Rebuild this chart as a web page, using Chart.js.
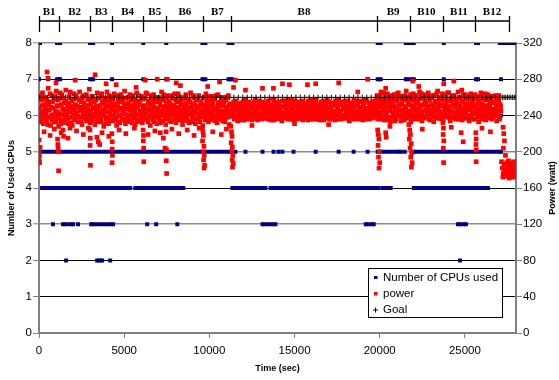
<!DOCTYPE html>
<html>
<head>
<meta charset="utf-8">
<script src="https://cdn.jsdelivr.net/npm/chart.js@4.4.1/dist/chart.umd.min.js"></script>
<style>
html, body { margin: 0; padding: 0; background: #fff; }
#wrap { width: 559px; height: 380px; }
</style>
</head>
<body>
<div id="wrap"><canvas id="chart" width="559" height="380"></canvas></div>
<script>
// block boundaries (sec) and names shown above the plot
var blockEdges = [0, 1180, 3000, 4290, 6120, 7470, 9650, 11290, 19820, 21760, 23710, 25590, 27590];
var blockLabels = ['B1', 'B2', 'B3', 'B4', 'B5', 'B6', 'B7', 'B8', 'B9', 'B10', 'B11', 'B12'];
var timeTicks = [0, 5000, 10000, 15000, 20000, 25000];

// CPU count held over a time span: [from, to, cpus]
var cpuRuns = [
  [0, 60, 8], [1060, 1240, 8], [2990, 3180, 8], [9590, 9770, 8], [11120, 11350, 8],
  [19880, 20060, 8], [21530, 22000, 8], [25650, 25770, 8], [27050, 28000, 8],
  [1060, 1240, 7], [3000, 3180, 7], [9590, 9770, 7], [11120, 11350, 7],
  [19880, 20060, 7], [21530, 22000, 7], [25650, 25770, 7],
  [0, 11240, 5], [19880, 21240, 5], [22000, 27120, 5],
  [180, 5350, 4], [5650, 6120, 4], [6240, 8470, 4], [11350, 13290, 4], [13590, 19290, 4],
  [19470, 19940, 4], [20180, 20650, 4], [22000, 23710, 4], [23880, 25650, 4], [25820, 26350, 4],
  [1410, 2000, 3], [3060, 4350, 3], [13120, 13880, 3], [19180, 19650, 3], [24590, 25060, 3],
  [3410, 3710, 2]
];
// single CPU readings: [time, cpus]
var cpuSingles = [
  [4290, 8], [6120, 8], [7470, 8], [23760, 8],
  [0, 7], [530, 7], [4290, 7], [6120, 7], [7470, 7], [23760, 7], [27120, 7],
  [0, 6], [1100, 6], [3000, 6], [3150, 6], [4290, 6], [6120, 6], [7470, 6], [9600, 6],
  [11350, 6], [20060, 6], [21650, 6], [22000, 6], [23760, 6], [25770, 6], [27120, 6],
  [11530, 5], [12120, 5], [13120, 5], [13770, 5], [14060, 5], [14290, 5], [14940, 5],
  [16240, 5], [17590, 5], [18470, 5], [19290, 5], [21470, 5],
  [820, 3], [2290, 3], [6350, 3], [6880, 3], [8120, 3],
  [1590, 2], [4180, 2], [24710, 2]
];

// power readings inside the main band: [time, watt]
var powerBand = [
  [20,248],[65,236],[110,257],[160,243],[205,265],[250,231],[300,252],[345,240],[395,260],[440,234],
  [490,246],[540,270],[585,238],[630,255],[680,229],[725,249],[775,262],[820,241],[870,233],[915,258],
  [965,244],[1010,267],[1060,237],[1105,251],[1150,228],[1200,259],[1245,242],[1295,235],[1340,263],[1390,247],
  [1435,232],[1480,254],[1530,240],[1575,268],[1625,236],[1670,250],[1720,231],[1765,261],[1815,244],[1860,238],
  [1910,256],[1955,229],[2005,247],[2050,264],[2100,235],[2145,252],[2195,241],[2240,259],[2285,233],[2335,249],
  [2380,266],[2430,238],[2475,255],[2525,230],[2570,245],[2620,262],[2665,237],[2710,251],[2760,243],[2805,234],
  [2855,258],[2900,246],[2950,269],[2995,232],[3045,253],[3090,240],[3135,261],[3185,236],[3230,248],[3280,230],
  [3325,257],[3375,244],[3420,265],[3470,235],[3515,250],[3560,239],[3610,262],[3655,233],[3705,254],[3750,242],
  [3800,228],[3845,259],[3895,247],[3940,236],[3990,266],[4035,251],[4080,231],[4130,256],[4175,243],[4225,238],
  [4270,261],[4320,234],[4365,249],[4415,264],[4460,237],[4505,253],[4555,229],[4600,245],[4650,258],[4695,240],
  [4745,232],[4790,263],[4840,248],[4885,235],[4930,255],[4980,242],[5025,267],[5075,231],[5120,250],[5170,239],
  [5215,260],[5260,236],[5310,246],[5355,233],[5405,257],[5450,244],[5500,262],[5545,237],[5595,252],[5640,230],
  [5685,248],[5735,265],[5780,241],[5830,234],[5875,256],[5925,245],[5970,238],[6020,261],[6065,232],[6110,250],
  [6160,243],[6205,259],[6255,236],[6300,247],[6350,264],[6395,233],[6440,254],[6490,240],[6535,229],[6585,258],
  [6630,246],[6680,235],[6725,263],[6770,249],[6820,238],[6865,255],[6915,231],[6960,244],[7010,260],[7055,237],
  [7105,251],[7150,242],[7195,266],[7245,234],[7290,248],[7340,257],[7385,239],[7435,230],[7480,253],[7530,245],
  [7575,262],[7620,236],[7670,250],[7715,241],[7765,233],[7810,259],[7860,247],[7905,238],[7955,264],[8000,244],
  [8045,232],[8095,255],[8140,240],[8190,249],[8235,261],[8285,235],[8330,252],[8375,243],[8425,230],[8470,258],
  [8520,246],[8565,237],[8615,263],[8660,250],[8710,234],[8755,256],[8800,241],[8850,248],[8895,265],[8945,233],
  [8990,253],[9040,239],[9085,260],[9130,245],[9180,231],[9225,257],[9275,242],[9320,236],[9370,262],[9415,249],
  [9465,238],[9510,254],[9555,244],[9605,229],[9650,259],[9700,247],[9745,235],[9795,264],[9840,251],[9890,240],
  [9935,233],[9985,256],[10030,246],[10075,238],[10125,261],[10170,243],[10220,252],[10265,236],[10315,258],[10360,241],
  [10410,249],[10455,232],[10500,263],[10550,245],[10595,237],[10645,255],[10690,240],[10735,260],[10785,234],[10830,251],
  [10880,243],[10925,236],[10975,257],[11020,247],[11070,239],[11115,262],[11165,230],[11210,253],
  [42,241],[88,262],[135,233],[182,251],[228,245],[275,258],[322,237],[370,249],[418,243],[465,256],
  [515,230],[562,252],[608,246],[655,264],[702,240],[750,235],[798,255],[845,248],[892,239],[940,261],
  [988,233],[1035,250],[1082,244],[1128,257],[1175,238],[1222,265],[1270,231],[1318,252],[1365,241],[1412,247],
  [1458,259],[1505,236],[1552,245],[1600,256],[1648,243],[1695,237],[1742,253],[1790,248],[1838,266],[1885,232],
  [1932,250],[1980,241],[2028,258],[2075,246],[2122,236],[2170,262],[2218,243],[2262,250],[2310,239],[2358,257],
  [2405,245],[2452,233],[2500,249],[2548,260],[2595,241],[2642,254],[2688,247],[2735,236],[2782,263],[2830,244],
  [2878,251],[2925,238],[2972,257],[3020,245],[3068,234],[3112,261],[3160,248],[3208,242],[3255,255],[3302,239],
  [3350,250],[3398,233],[3445,246],[3492,259],[3538,242],[3585,251],[3632,237],[3680,264],[3728,246],[3775,255],
  [3822,240],[3870,252],[3918,231],[3965,257],[4012,244],[4058,238],[4105,262],[4152,249],[4200,235],[4248,253],
  [4295,246],[4342,258],[4390,240],[4438,251],[4482,244],[4530,235],[4578,262],[4625,250],[4672,233],[4720,255],
  [4768,247],[4815,239],[4862,258],[4908,244],[4955,236],[5002,252],[5050,247],[5098,259],[5145,241],[5192,234],
  [5238,254],[5285,249],[5332,263],[5380,240],[5428,251],[5475,232],[5522,246],[5570,257],[5618,243],[5662,238],
  [5710,255],[5758,233],[5805,250],[5852,262],[5900,240],[5948,252],[5995,244],[6042,235],[6088,258],[6135,247],
  [6182,238],[6230,251],[6278,265],[6325,242],[6372,236],[6418,256],[6465,246],[6512,251],[6560,238],[6608,262],
  [6655,243],[6702,253],[6748,233],[6795,257],[6842,245],[6890,240],[6938,260],[6985,248],[7032,236],[7080,255],
  [7128,232],[7172,258],[7220,245],[7268,240],[7315,263],[7362,250],[7410,243],[7458,236],[7505,259],[7552,248],
  [7598,241],[7645,255],[7692,234],[7740,252],[7788,246],[7835,262],[7882,242],[7930,251],[7978,236],[8022,257],
  [8070,248],[8118,243],[8165,264],[8212,237],[8260,246],[8308,256],[8352,240],[8400,252],[8448,235],[8495,247],
  [8542,260],[8590,242],[8638,253],[8685,238],[8732,246],[8778,258],[8825,232],[8872,255],[8920,243],[8968,249],
  [9015,237],[9062,262],[9108,244],[9155,252],[9202,236],[9250,247],[9298,258],[9345,241],[9392,250],[9440,233],
  [9488,256],[9532,245],[9580,239],[9628,252],[9675,241],[9722,260],[9770,245],[9818,237],[9865,255],[9912,247],
  [9960,243],[10008,261],[10052,235],[10100,251],[10148,244],[10195,256],[10242,240],[10290,248],[10338,234],[10385,262],
  [10432,246],[10478,238],[10525,254],[10572,242],[10620,250],[10668,236],[10712,258],[10760,245],[10808,241],[10855,255],
  [10902,233],[10950,249],[10998,243],[11045,260],[11092,238],[11140,251],[11188,245],[11232,240],
  [11300,244],[11350,239],[11400,252],[11455,236],[11510,248],[11560,256],[11615,241],[11665,234],[11720,250],[11770,245],
  [11825,238],[11880,254],[11930,242],[11985,247],[12035,235],[12090,257],[12140,243],[12195,239],[12250,251],[12300,246],
  [12355,237],[12405,253],[12460,241],[12515,248],[12565,236],[12620,255],[12670,244],[12725,240],[12775,250],[12830,235],
  [12885,247],[12935,256],[12990,242],[13040,238],[13095,252],[13150,245],[13200,237],[13255,249],[13305,254],[13360,240],
  [13410,246],[13465,236],[13520,251],[13570,243],[13625,258],[13675,239],[13730,247],[13780,235],[13835,253],[13890,244],
  [13940,240],[13995,250],[14045,237],[14100,255],[14150,246],[14205,241],[14260,234],[14310,249],[14365,243],[14415,256],
  [14470,238],[14520,247],[14575,252],[14625,236],[14680,244],[14735,250],[14785,239],[14840,257],[14890,242],[14945,235],
  [14995,248],[15050,245],[15100,240],[15155,254],[15210,237],[15260,246],[15315,251],[15365,243],[15420,236],[15470,256],
  [15525,241],[15580,248],[15630,238],[15685,253],[15735,244],[15790,235],[15840,250],[15895,246],[15945,239],[16000,257],
  [16055,242],[16105,236],[16160,249],[16210,244],[16265,254],[16315,238],[16370,247],[16420,241],[16475,235],[16530,252],
  [16580,245],[16635,239],[16685,256],[16740,243],[16790,237],[16845,250],[16895,246],[16950,240],[17005,255],[17055,236],
  [17110,248],[17160,243],[17215,238],[17265,253],[17320,245],[17370,235],[17425,251],[17480,241],[17530,247],[17585,257],
  [17635,239],[17690,244],[17740,236],[17795,252],[17845,248],[17900,240],[17955,256],[18005,243],[18060,237],[18110,250],
  [18165,246],[18215,234],[18270,254],[18320,242],[18375,247],[18430,238],[18480,258],[18535,244],[18585,236],[18640,251],
  [18690,245],[18745,240],[18795,256],[18850,237],[18905,249],[18955,243],[19010,235],[19060,253],[19115,246],[19165,239],
  [19220,257],[19270,242],[19325,248],[19375,236],[19430,252],[19480,244],[19535,240],[19585,255],[19640,238],[19690,247],
  [11325,249],[11378,242],[11428,255],[11482,238],[11535,246],[11588,251],[11640,237],[11692,253],[11745,242],[11798,248],
  [11852,235],[11905,250],[11958,244],[12010,256],[12062,239],[12115,247],[12168,252],[12222,236],[12275,243],[12328,255],
  [12380,241],[12432,249],[12488,235],[12540,252],[12592,245],[12645,239],[12698,257],[12750,243],[12802,248],[12858,238],
  [12910,253],[12962,241],[13015,249],[13068,236],[13122,255],[13175,244],[13228,240],[13280,251],[13332,245],[13385,237],
  [13438,256],[13492,242],[13545,248],[13598,235],[13650,252],[13702,245],[13755,240],[13808,257],[13862,238],[13915,248],
  [13968,243],[14020,236],[14072,254],[14128,245],[14180,250],[14232,239],[14285,256],[14338,242],[14390,237],[14442,251],
  [14495,245],[14548,240],[14600,257],[14652,243],[14708,236],[14760,253],[14812,247],[14865,241],[14918,251],[14970,238],
  [15022,256],[15075,243],[15128,236],[15182,249],[15235,245],[15288,255],[15340,239],[15392,247],[15445,252],[15498,235],
  [15552,244],[15605,254],[15658,240],[15710,249],[15762,237],[15815,256],[15868,243],[15920,251],[15972,236],[16028,247],
  [16080,253],[16132,240],[16185,245],[16238,257],[16290,236],[16342,251],[16395,243],[16448,249],[16502,238],[16555,255],
  [16608,242],[16660,248],[16712,235],[16765,253],[16818,245],[16870,239],[16922,257],[16978,242],[17030,249],[17082,236],
  [17135,254],[17188,245],[17240,240],[17292,251],[17345,237],[17398,256],[17452,243],[17505,249],[17558,236],[17610,252],
  [17662,245],[17715,240],[17768,255],[17820,238],[17872,247],[17928,252],[17980,237],[18032,249],[18085,244],[18138,256],
  [18190,239],[18242,251],[18295,245],[18348,236],[18402,253],[18455,242],[18508,249],[18560,238],[18612,256],[18665,243],
  [18718,252],[18770,236],[18822,247],[18878,241],[18930,255],[18982,238],[19035,250],[19088,244],[19140,257],[19192,236],
  [19245,248],[19298,243],[19350,254],[19402,239],[19455,246],[19508,252],[19560,237],[19612,250],[19665,244],[19718,256],
  [19750,252],[19800,241],[19845,262],[19890,236],[19935,249],[19985,257],[20030,244],[20075,266],[20120,238],[20170,253],
  [20215,246],[20260,235],[20310,260],[20355,250],[20400,242],[20445,264],[20495,237],[20540,255],[20585,247],[20630,233],
  [20680,259],[20725,244],[20770,251],[20815,239],[20865,263],[20910,248],[20955,236],[21000,256],[21050,243],[21095,265],
  [21140,240],[21185,252],[21235,234],[21280,258],[21325,246],[21370,261],[21420,238],[21465,250],[21510,243],[21555,267],
  [21600,237],[21650,254],[21695,245],[21740,260],[21785,241],[21830,233],[21880,257],[21925,248],[21970,264],[22015,239],
  [22065,252],[22110,244],[22155,262],[22200,236],[22250,255],[22295,247],[22340,266],[22385,240],[22435,251],[22480,234],
  [22525,259],[22570,245],[22620,263],[22665,238],[22710,253],[22755,249],[22800,242],[22850,265],[22895,236],[22940,257],
  [22985,246],[23035,260],[23080,240],[23125,251],[23170,233],[23215,262],[23265,244],[23310,255],[23355,239],[23400,267],
  [23450,248],[23495,237],[23540,258],[23585,243],[23635,252],[23680,264],[23725,235],[23770,250],[23820,246],[23865,261],
  [23910,241],[23955,256],[24005,238],[24050,265],[24095,247],[24140,234],[24185,259],[24235,244],[24280,253],[24325,240],
  [24370,262],[24420,249],[24465,236],[24510,257],[24555,245],[24600,266],[24650,239],[24695,252],[24740,243],[24785,260],
  [24835,235],[24880,255],[24925,248],[24970,241],[25020,263],[25065,237],[25110,251],[25155,246],[25200,258],[25250,234],
  [25295,249],[25340,264],[25385,240],[25435,254],[25480,244],[25525,261],[25570,236],[25620,250],[25665,242],[25710,259],
  [25755,247],[25805,233],[25850,256],[25895,245],[25940,265],[25990,238],[26035,252],[26080,241],[26125,260],[26170,248],
  [26220,235],[26265,257],[26310,244],[26355,263],[26405,239],[26450,251],[26495,246],[26540,258],[26590,236],[26635,254],
  [26680,243],[26725,261],[26775,240],[26820,249],[26865,234],[26910,256],[26960,245],[27005,262],[27050,238],[27095,250],
  [19772,245],[19822,258],[19868,238],[19912,253],[19960,243],[20008,262],[20052,236],[20098,250],[20145,257],[20192,241],
  [20238,265],[20285,247],[20332,238],[20378,255],[20422,244],[20470,259],[20518,235],[20562,252],[20608,246],[20655,262],
  [20702,238],[20748,255],[20792,243],[20840,250],[20888,234],[20932,258],[20978,245],[21025,264],[21072,240],[21118,251],
  [21162,246],[21210,261],[21258,237],[21302,253],[21348,243],[21395,257],[21442,235],[21488,262],[21532,248],[21578,241],
  [21625,258],[21672,245],[21718,252],[21762,238],[21808,263],[21855,244],[21902,251],[21948,236],[21992,257],[22040,247],
  [22088,262],[22132,240],[22178,253],[22225,245],[22272,258],[22318,236],[22362,250],[22410,243],[22458,264],[22502,240],
  [22548,252],[22595,237],[22642,256],[22688,246],[22732,261],[22778,239],[22825,250],[22872,244],[22918,259],[22962,235],
  [23010,252],[23058,242],[23102,262],[23148,247],[23192,238],[23240,256],[23288,249],[23332,264],[23378,237],[23425,253],
  [23472,245],[23518,260],[23562,240],[23610,251],[23658,236],[23702,257],[23748,244],[23795,262],[23842,239],[23888,252],
  [23932,247],[23980,265],[24028,243],[24072,250],[24118,238],[24162,256],[24210,245],[24258,262],[24302,237],[24348,251],
  [24395,243],[24442,258],[24488,240],[24532,253],[24578,247],[24625,236],[24672,260],[24718,248],[24762,240],[24810,255],
  [24858,245],[24902,263],[24948,237],[24995,252],[25042,244],[25088,258],[25132,240],[25178,253],[25225,247],[25272,262],
  [25318,238],[25362,251],[25410,244],[25458,257],[25502,236],[25548,249],[25595,263],[25642,243],[25688,252],[25732,238],
  [25780,256],[25828,245],[25872,261],[25918,240],[25965,252],[26012,247],[26058,236],[26102,258],[26148,244],[26195,264],
  [26242,239],[26288,251],[26332,246],[26380,258],[26428,237],[26472,253],[26518,242],[26565,261],[26612,247],[26658,238],
  [26702,255],[26748,246],[26798,262],[26842,240],[26888,251],[26935,243],[26982,257],[27028,236],[27072,252],[27110,245]
];

// power readings away from the band: spikes, dips at CPU changes, low tail at the end
var powerOutliers = [
  [470,288],[530,281],[1000,276],[2120,279],[3290,285],[3940,275],[4530,274],[5700,271],[6240,279],[6940,280],
  [7530,280],[8060,276],[8300,273],[9900,272],[10600,277],[11530,279],[12120,268],[13120,270],[13760,270],[14290,275],
  [14700,274],[15760,274],[16240,275],[17590,276],[18710,266],[19290,280],[20350,270],[21940,278],[22290,272],[23760,275],
  [24350,278],[24820,268],
  [300,222],[650,218],[900,225],[1300,221],[1700,215],[2200,223],[2600,219],[2900,226],[3700,221],[4100,217],
  [4700,224],[5100,220],[5600,226],[6400,219],[6800,223],[7300,215],[7800,225],[8200,220],[8700,224],[9100,218],
  [9400,226],[10200,222],[10700,219],[11000,225],[12500,229],[15000,231],[17000,230],[20600,228],[22500,225],[24200,227],
  [26000,226],[26500,222],
  [0,213],[0,200],[20,195],[10,190],[30,188],[60,205],
  [1090,214],[1110,208],[1120,204],[1130,200],[1150,179],[1410,224],[1440,217],[1820,226],
  [2990,224],[3010,215],[3000,207],[3020,185],[3400,216],[3560,208],[3480,211],
  [4280,220],[4300,211],[4290,203],[4310,196],[4290,188],
  [6110,224],[6130,218],[6120,212],[6140,204],[6150,189],[7120,221],[7400,204],
  [7460,222],[7480,202],[7470,190],[7490,176],
  [9590,226],[9620,222],[9650,218],[9600,212],[9680,206],[9640,200],[9700,196],[9660,191],[9720,185],[9690,182],
  [11250,228],[11300,222],[11330,217],[11280,210],[11350,205],[11310,200],[11380,196],[11340,191],[11400,187],[11360,183],[11420,271],
  [19880,224],[19920,219],[19950,214],[19900,207],[19980,200],[19930,194],[20000,188],[19960,182],[20350,221],[20380,216],
  [21710,230],[21760,224],[21800,219],[21740,214],[21850,209],[21780,204],[21880,199],[21820,194],[21900,188],[21860,183],
  [23710,232],[23740,226],[23720,219],[23760,212],[23730,204],[23750,188],[24780,221],[24900,211],
  [25640,221],[25660,214],[25650,208],[25670,202],[25660,189],
  [27240,227],[27280,220],[27320,212],[27260,204],[27380,196],
  [27150,189],[27200,182],[27250,176],[27300,186],[27350,173],[27400,180],[27450,188],[27500,175],[27550,183],[27600,171],
  [27650,179],[27700,187],[27750,174],[27800,182],[27850,189],[27900,177],[27950,172],[27980,185],[27320,178],[27480,184],
  [27620,186],[27780,177],[27880,180],[27230,172],[27560,190],[27700,172],[27930,188],[27420,175],[27840,174],[27660,184]
];

// power goal (watt) and the times it was logged
var goalWatt = 260;
var goalTimes = [
  0, 260, 520, 780, 1040, 1300, 1560, 1820, 2080, 2600, 2860, 3120, 3380, 3640, 3900, 4160, 4420, 4680,
  4940, 5200, 5460, 5720, 5980, 6240, 6500, 6760, 7020, 7280, 7540, 7800, 8060, 8320, 8580, 8840, 9100,
  9360, 9620, 9880, 10140, 10400, 10660, 10920, 11180, 11440, 11700, 11960, 12220, 12480, 12740, 13000,
  13260, 13520, 13780, 14040, 14300, 14560, 14820, 15080, 15340, 15600, 15860, 16120, 16380, 16640, 16900,
  17160, 17420, 17680, 17940, 18200, 18460, 18720, 18980, 19240, 19500, 19760, 20020, 20280, 20540, 20800,
  21060, 21320, 21580, 21840, 22100, 22360, 22620, 22880, 23140, 23400, 23660, 23920, 24180, 24440, 24700,
  24960, 25220, 25480, 25740, 26000, 26260, 26520, 26780, 27040, 27200, 27300, 27400, 27500, 27600, 27700,
  27800, 27900, 28000
];

// build the datasets
var cpuData = [];
cpuRuns.forEach(function (r) {
  cpuData.push({x: r[0], y: r[2]}, {x: r[1], y: r[2]}, {x: r[1], y: null});
});
cpuSingles.forEach(function (p) {
  cpuData.push({x: p[0], y: p[1]}, {x: p[0], y: null});
});
var powerData = powerBand.concat(powerOutliers).map(function (p) { return {x: p[0], y: p[1]}; });
var goalData = goalTimes.map(function (t) { return {x: t, y: goalWatt}; });

var FONT = "'Liberation Sans', Arial, sans-serif";
Chart.defaults.font.family = FONT;
Chart.defaults.color = '#000';

var decor = {
  id: 'decor',
  afterDraw: function (chart) {
    var ctx = chart.ctx, xs = chart.scales.x, area = chart.chartArea;
    ctx.save();

    // blocks above the plot
    ctx.strokeStyle = '#000';
    ctx.lineWidth = 1.3;
    var x0 = xs.getPixelForValue(blockEdges[0]);
    var x1 = xs.getPixelForValue(blockEdges[blockEdges.length - 1]);
    ctx.beginPath();
    ctx.moveTo(x0, 21); ctx.lineTo(x1, 21);
    blockEdges.forEach(function (e) {
      var px = Math.round(xs.getPixelForValue(e)) + 0.5;
      ctx.moveTo(px, 16); ctx.lineTo(px, 32);
    });
    ctx.stroke();
    ctx.fillStyle = '#000';
    ctx.font = "bold 11px 'Liberation Serif', 'Times New Roman', serif";
    ctx.textAlign = 'center';
    ctx.textBaseline = 'middle';
    blockLabels.forEach(function (lab, i) {
      var mid = (xs.getPixelForValue(blockEdges[i]) + xs.getPixelForValue(blockEdges[i + 1])) / 2;
      ctx.fillText(lab, mid, 12);
    });

    // right axis title, reading upwards
    ctx.font = 'bold 9px ' + FONT;
    ctx.translate(553, (area.top + area.bottom) / 2);
    ctx.rotate(-Math.PI / 2);
    ctx.fillText('Power (watt)', 0, 0);
    ctx.setTransform(1, 0, 0, 1, 0, 0);

    // legend box
    var lx = area.right - 148, ly = area.bottom - 65;
    ctx.fillStyle = '#fff';
    ctx.fillRect(lx, ly, 134, 49);
    ctx.strokeStyle = '#000';
    ctx.lineWidth = 1;
    ctx.strokeRect(lx + 0.5, ly + 0.5, 134, 49);
    ctx.font = '11.5px ' + FONT;
    ctx.textAlign = 'left';
    ctx.textBaseline = 'middle';
    var ds = chart.data.datasets;
    var rows = [ly + 9.5, ly + 25.5, ly + 42];
    ctx.fillStyle = ds[0].backgroundColor;
    ctx.fillRect(lx + 6, rows[0] - 1.5, 3.5, 3);
    ctx.fillStyle = ds[1].backgroundColor;
    ctx.fillRect(lx + 6, rows[1] - 1.5, 3.5, 3.5);
    ctx.strokeStyle = '#000';
    ctx.beginPath();
    ctx.moveTo(lx + 5, rows[2]); ctx.lineTo(lx + 10, rows[2]);
    ctx.moveTo(lx + 7.5, rows[2] - 2.5); ctx.lineTo(lx + 7.5, rows[2] + 2.5);
    ctx.stroke();
    ctx.fillStyle = '#000';
    ds.forEach(function (d, i) {
      ctx.fillText(d.label, lx + 15, rows[i]);
    });
    ctx.restore();
  }
};

var greyRows = [3, 5, 8];

new Chart(document.getElementById('chart').getContext('2d'), {
  type: 'scatter',
  data: {
    datasets: [
      {
        label: 'Number of CPUs used',
        data: cpuData,
        yAxisID: 'y',
        showLine: true,
        spanGaps: false,
        borderColor: '#000080',
        backgroundColor: '#000080',
        borderWidth: 4,
        pointStyle: 'rect',
        pointRadius: 2.8,
        pointBackgroundColor: '#000080',
        pointBorderWidth: 0,
        order: 3
      },
      {
        label: 'power',
        data: powerData,
        yAxisID: 'y1',
        backgroundColor: '#ff0000',
        borderColor: '#ff0000',
        pointStyle: 'rect',
        pointRadius: 3.3,
        pointBackgroundColor: '#ff0000',
        pointBorderWidth: 0,
        order: 2
      },
      {
        label: 'Goal',
        data: goalData,
        yAxisID: 'y1',
        backgroundColor: '#000',
        borderColor: '#000',
        pointStyle: 'cross',
        pointRadius: 2.7,
        pointBorderColor: '#000',
        pointBorderWidth: 1,
        order: 1
      }
    ]
  },
  options: {
    responsive: false,
    animation: false,
    devicePixelRatio: 1,
    layout: { padding: { top: 43, left: 0, right: 0, bottom: 0 } },
    plugins: { legend: { display: false }, tooltip: { enabled: false } },
    scales: {
      x: {
        type: 'linear',
        position: 'bottom',
        min: 0,
        max: 28000,
        afterBuildTicks: function (s) {
          s.ticks = timeTicks.map(function (v) { return {value: v}; });
        },
        ticks: {
          autoSkip: false,
          maxRotation: 0,
          padding: 6,
          color: '#000',
          font: { size: 11.5 },
          callback: function (v) { return String(v); }
        },
        grid: { drawOnChartArea: false, drawTicks: true, tickLength: 5, tickColor: '#808080', tickWidth: 1 },
        border: { color: '#808080', width: 2 },
        title: { display: true, text: 'Time (sec)', color: '#000', font: { size: 9, weight: 'bold' }, padding: { top: 0, bottom: 6 } },
        afterFit: function (s) { s.height = 47; }
      },
      y: {
        position: 'left',
        min: 0,
        max: 8,
        ticks: { stepSize: 1, padding: 1, color: '#000', font: { size: 11.5 } },
        grid: {
          color: function (c) { return greyRows.indexOf(c.tick.value) >= 0 ? '#8c8c8c' : '#000'; },
          lineWidth: function (c) { return greyRows.indexOf(c.tick.value) >= 0 ? 1.6 : 1; },
          drawTicks: true,
          tickLength: 6,
          tickColor: '#808080',
          tickWidth: 1
        },
        border: { color: '#808080', width: 2 },
        title: { display: true, text: 'Number of Used CPUs', color: '#000', font: { size: 9, weight: 'bold' }, padding: { top: 6, bottom: 0 } },
        afterFit: function (s) { s.width = 39; }
      },
      y1: {
        position: 'right',
        min: 0,
        max: 320,
        ticks: { stepSize: 40, padding: 1, color: '#000', font: { size: 11.5 } },
        grid: { drawOnChartArea: false, drawTicks: true, tickLength: 6, tickColor: '#808080', tickWidth: 1 },
        border: { color: '#808080', width: 2 },
        afterFit: function (s) { s.width = 43; }
      }
    }
  },
  plugins: [decor]
});
</script>
</body>
</html>
